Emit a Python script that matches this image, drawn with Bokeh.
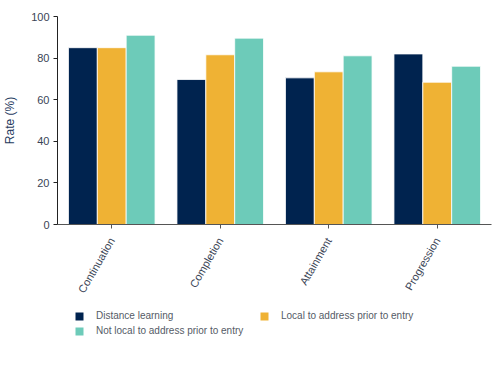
import math
from bokeh.plotting import figure
from bokeh.layouts import column
from bokeh.models import ColumnDataSource, FactorRange, Range1d, FixedTicker, Legend, LegendItem
from bokeh.transform import dodge
from bokeh.embed import file_html
from bokeh.resources import INLINE

categories = ["Continuation", "Completion", "Attainment", "Progression"]
distance_learning = [85.0, 69.7, 70.5, 82.0]
local_to_address = [85.0, 81.6, 73.4, 68.4]
not_local_to_address = [91.0, 89.6, 81.1, 76.1]
series_names = ["Distance learning", "Local to address prior to entry",
                "Not local to address prior to entry"]
y_ticks = [0, 20, 40, 60, 80, 100]

colors = ["#00234F", "#EFB234", "#6DCBB9"]
keys = ["d", "l", "n"]

source = ColumnDataSource(data=dict(cat=categories, d=distance_learning,
                                    l=local_to_address, n=not_local_to_address))

p = figure(width=500, height=300, x_range=FactorRange(*categories, range_padding=0),
           y_range=Range1d(0, 100), output_backend="svg", toolbar_location=None,
           min_border_left=57, min_border_top=16, min_border_right=9, min_border_bottom=76)

bw = 0.266
for key, off, c in zip(keys, [-bw, 0, bw], colors):
    p.vbar(x=dodge("cat", off, range=p.x_range), top=key, width=bw, source=source,
           fill_color=c, line_color="white", line_width=0.8)

p.grid.visible = False
p.outline_line_color = None
p.background_fill_color = "white"

p.yaxis.ticker = FixedTicker(ticks=y_ticks)
p.yaxis.minor_tick_line_color = None
p.yaxis.major_tick_in = 0
p.yaxis.major_tick_out = 4
p.yaxis.axis_line_color = "#222222"
p.yaxis.major_tick_line_color = "#222222"
p.yaxis.major_label_text_font = "Liberation Sans"
p.yaxis.major_label_text_font_size = "11px"
p.yaxis.major_label_text_color = "#3A4455"
p.yaxis.major_label_standoff = 4
p.yaxis.axis_label = "Rate (%)"
p.yaxis.axis_label_text_font = "Liberation Sans"
p.yaxis.axis_label_text_font_size = "12px"
p.yaxis.axis_label_text_font_style = "normal"
p.yaxis.axis_label_text_color = "#1F3A60"
p.yaxis.axis_label_standoff = 11

p.xaxis.axis_line_color = "#555555"
p.xaxis.major_tick_line_color = "#555555"
p.xaxis.major_tick_in = 0
p.xaxis.major_tick_out = 4
p.xaxis.major_label_orientation = math.pi / 3
p.xaxis.major_label_text_font = "Liberation Sans"
p.xaxis.major_label_text_font_size = "11px"
p.xaxis.major_label_text_color = "#3A4455"
p.xaxis.major_label_standoff = 10

# legend in its own small figure below the chart (bars there lie outside its view)
lf = figure(width=500, height=67, x_range=FactorRange(*categories, range_padding=0),
            y_range=Range1d(200, 300), output_backend="svg", toolbar_location=None,
            min_border=0, x_axis_location=None, y_axis_location=None)
lf.grid.visible = False
lf.outline_line_color = None
legend_renderers = [lf.vbar(x="cat", top=k, width=bw, source=source, fill_color=c,
                            line_color=None) for k, c in zip(keys, colors)]
items = [LegendItem(label=n, renderers=[r]) for n, r in zip(series_names, legend_renderers)]
legend = Legend(items=items, ncols=2, orientation="horizontal", location=(17, 29),
                glyph_width=10, glyph_height=10, label_height=15, label_width=163,
                label_standoff=12, spacing=0, padding=0, margin=0,
                label_text_font="Liberation Sans", label_text_font_size="10px",
                label_text_color="#555B66", border_line_color=None,
                background_fill_alpha=0)
lf.add_layout(legend, "center")

layout = column(p, lf, spacing=0)
open("out.html", "w").write(file_html(layout, INLINE))
